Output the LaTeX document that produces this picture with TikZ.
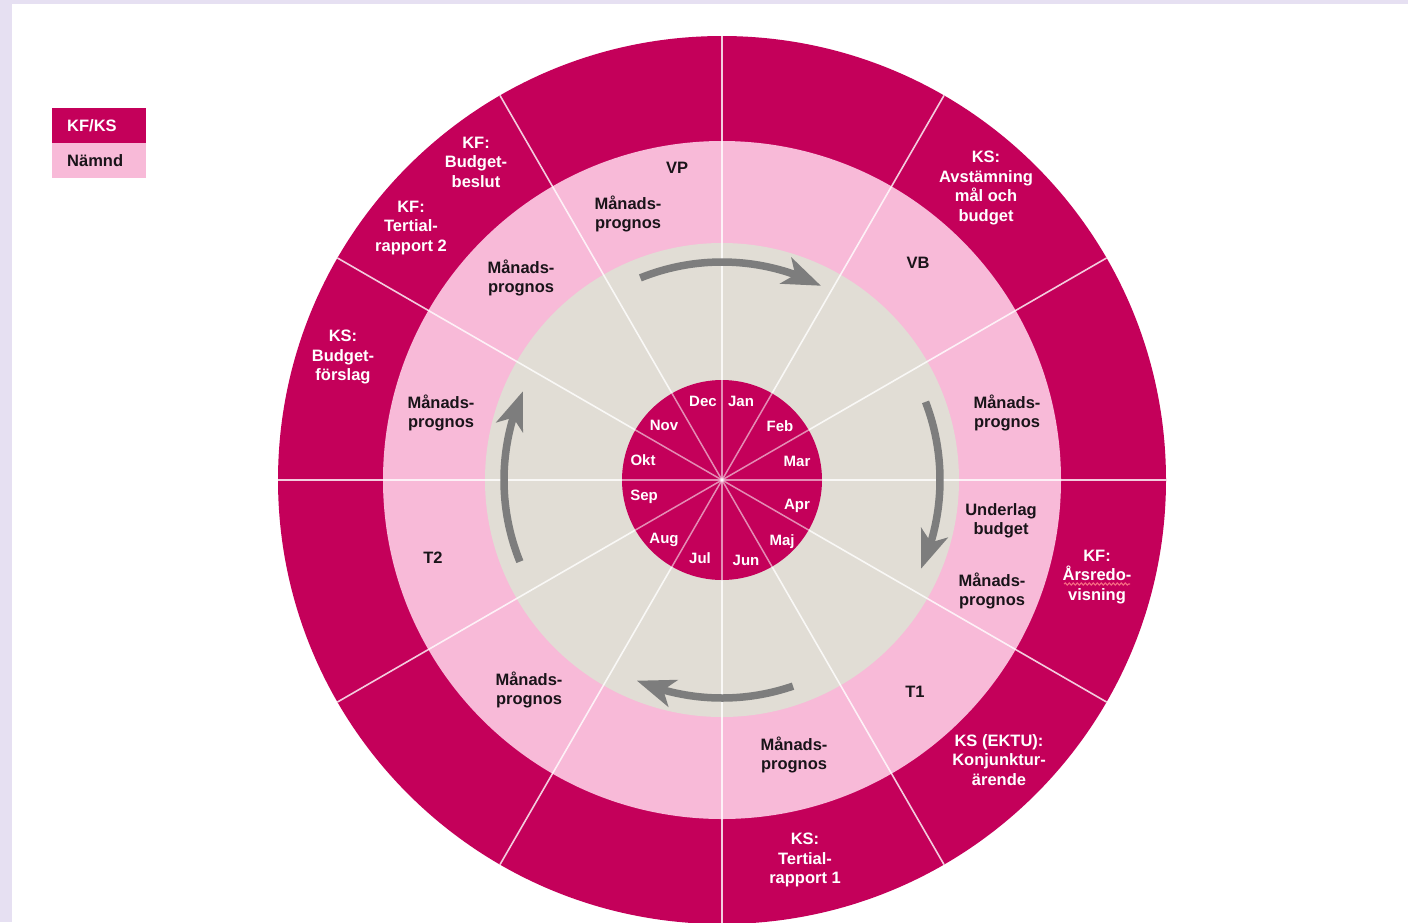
\documentclass[tikz,border=0pt]{standalone}
\usepackage{fontspec}
\setmainfont{Liberation Sans}
\usetikzlibrary{arrows.meta,bending,decorations.pathmorphing}
\definecolor{kf}{RGB}{196,0,90}
\definecolor{nam}{RGB}{248,186,216}
\definecolor{core}{RGB}{225,221,213}
\definecolor{arr}{RGB}{125,125,125}
\definecolor{lav}{RGB}{230,224,242}
\definecolor{ink}{RGB}{25,20,25}
\definecolor{spell}{RGB}{245,105,130}
\begin{document}
\begin{tikzpicture}[x=1pt,y=-1pt,
  outer/.style={font=\bfseries\fontsize{16.5}{19.5}\selectfont, text=white, align=center, inner sep=0pt},
  inner/.style={font=\bfseries\fontsize{16.5}{19.5}\selectfont, text=ink, align=center, inner sep=0pt},
  month/.style={font=\bfseries\fontsize{15}{17}\selectfont, text=white, inner sep=0pt, anchor=base, yshift=-5.3pt},
  spoke/.style={white, line width=1.6pt, opacity=0.8},
  ispoke/.style={white, line width=1.5pt, opacity=0.55},
  cyc/.style={arr, line width=7.5pt, -{Stealth[length=38pt,width=28pt,inset=10pt,flex]}},
  legend/.style={font=\bfseries\fontsize{16.5}{19.5}\selectfont, anchor=north west, minimum height=35pt, text width=64pt, align=left, inner xsep=15pt, inner ysep=0pt}]
\useasboundingbox (0,0) rectangle (1408,922);
\fill[lav] (0,0) rectangle (1408,922);
\fill[white] (12,4) rectangle (1408,922);

\coordinate (C) at (722,480);
% rings
\fill[kf] (C) circle[radius=444];
\fill[nam] (C) circle[radius=339];
\fill[core] (C) circle[radius=237];
\foreach \a in {0,30,...,330} \draw[spoke] (C) -- ++(\a:444);
\fill[kf] (C) circle[radius=100];
\foreach \a in {0,30,...,330} \draw[ispoke] (C) -- ++(\a:100);

% cycle arrows
\draw[cyc] (C) ++(-112:218) arc[start angle=-112, end angle=-63, radius=218];
\draw[cyc] (C) ++(-21:218) arc[start angle=-21, end angle=24, radius=218];
\draw[cyc] (C) ++(71:218) arc[start angle=71, end angle=113, radius=218];
\draw[cyc] (C) ++(-202:218) arc[start angle=-202, end angle=-156, radius=218];

% legend
\node[legend, fill=kf, text=white] (lgkf) at (52,108) {KF/KS};
\node[legend, fill=nam, text=ink] (lgnm) at (52,143) {Nämnd};

% outer ring (KF/KS)
\node[outer] (kfbb) at (476,162) {KF:\\Budget-\\beslut};
\node[outer] (kft2) at (411,228) {KF:\\Tertial-\\rapport 2};
\node[outer] (ksbf) at (343,357) {KS:\\Budget-\\förslag};
\node[outer] (ksav) at (986,188) {KS:\\Avstämning\\mål och\\budget};
\node[outer] (kfar) at (1097,577) {KF:\\Årsredo-\\visning};
\node[outer] (ksek) at (999,760) {KS (EKTU):\\Konjunktur-\\ärende};
\node[outer] (kst1) at (805,860) {KS:\\Tertial-\\rapport 1};
\draw[spell, line width=1.1pt, decorate, decoration={snake, amplitude=1.1pt, segment length=4pt}] (1064,584) -- (1130,584);

% middle ring (Nämnd)
\node[inner] (vp)  at (677,168) {VP};
\node[inner] (mp1) at (628,214) {Månads-\\prognos};
\node[inner] (mp2) at (521,278) {Månads-\\prognos};
\node[inner] (mp3) at (441,413) {Månads-\\prognos};
\node[inner] (t2)  at (433,558) {T2};
\node[inner] (mp4) at (529,690) {Månads-\\prognos};
\node[inner] (mp5) at (794,755) {Månads-\\prognos};
\node[inner] (t1)  at (915,692) {T1};
\node[inner] (mp6) at (992,591) {Månads-\\prognos};
\node[inner] (ub)  at (1001,521) {Underlag\\budget};
\node[inner] (mp7) at (1007,413) {Månads-\\prognos};
\node[inner] (vb)  at (918,263) {VB};

% months
\node[month] (jan) at (741,401) {Jan};
\node[month] (feb) at (780,426) {Feb};
\node[month] (mar) at (797,461) {Mar};
\node[month] (apr) at (797,504) {Apr};
\node[month] (maj) at (782,540) {Maj};
\node[month] (jun) at (746,560) {Jun};
\node[month] (jul) at (700,558) {Jul};
\node[month] (aug) at (664,538) {Aug};
\node[month] (sep) at (644,495) {Sep};
\node[month] (okt) at (643,460) {Okt};
\node[month] (nov) at (664,425) {Nov};
\node[month] (dec) at (703,401) {Dec};
\end{tikzpicture}
\end{document}
